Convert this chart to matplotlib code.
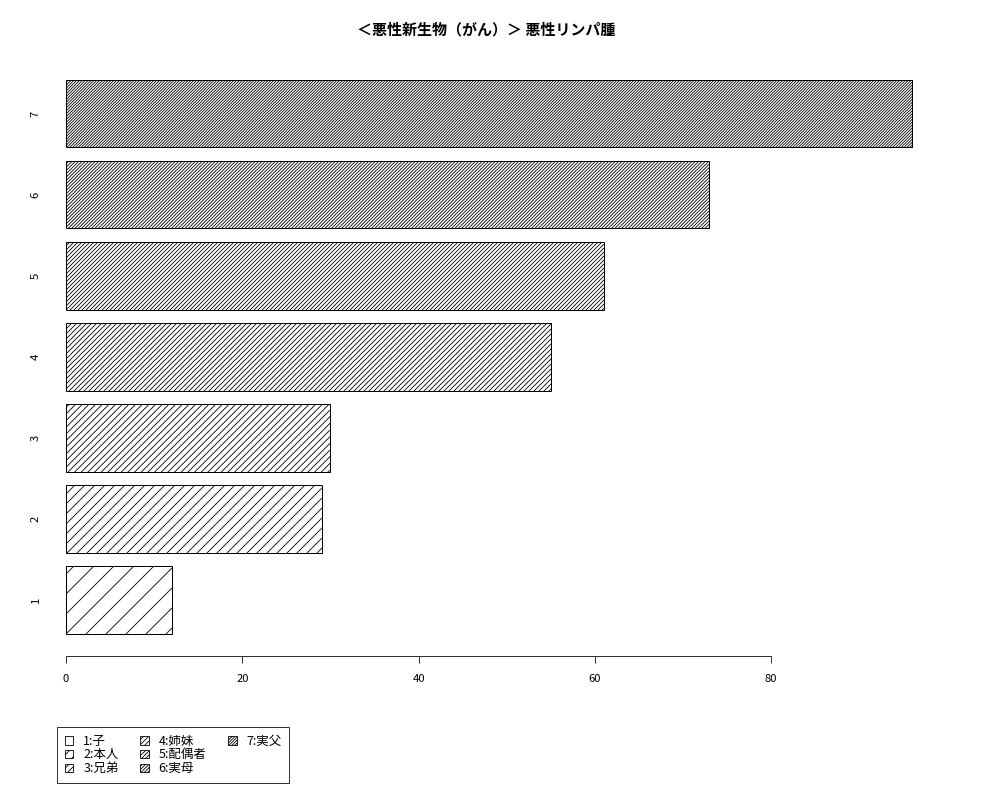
import matplotlib
matplotlib.use("Agg")
import matplotlib.pyplot as plt
from matplotlib.patches import Patch

plt.rcParams['font.family'] = ['Noto Sans CJK JP', 'DejaVu Sans']
plt.rcParams['hatch.linewidth'] = 1.0

# data
groups = ['1', '2', '3', '4', '5', '6', '7']
values = [12, 29, 30, 55, 61, 73, 96]
legend_labels = ['1:子', '2:本人', '3:兄弟', '4:姉妹', '5:配偶者', '6:実母', '7:実父']
hatches = ['/' * (i + 1) for i in range(7)]
title = '＜悪性新生物（がん）＞ 悪性リンパ腫'

# low dpi so that one '/' gives ~20 px line spacing like R density=5
dpi = 60
fig = plt.figure(figsize=(1000 / dpi, 800 / dpi), dpi=dpi)
ax = fig.add_axes([0.0234, 0.18, 0.946 - 0.0234, 0.928 - 0.18])

# R style bar layout: width 1, space 0.2
ypos = [0.2 + 1.2 * i + 0.5 for i in range(len(values))]
for y, v, h in zip(ypos, values, hatches):
    ax.barh(y, v, height=1.0, left=0, color='white', edgecolor='black',
            hatch=h, linewidth=1.2)

ax.set_xlim(-4.84, 99.84)
ax.set_ylim(-0.128, 8.728)

for s in ['top', 'right', 'left']:
    ax.spines[s].set_visible(False)
ax.spines['bottom'].set_bounds(0, 80)
ax.spines['bottom'].set_linewidth(1.2)
ax.spines['bottom'].set_color('#333333')
ax.set_xticks([0, 20, 40, 60, 80])
ax.tick_params(axis='x', length=8.4, width=1.2, color='#333333',
               labelsize=13.5, pad=13)
ax.set_yticks(ypos)
ax.set_yticklabels(groups, rotation=90, ha='center', va='center', fontsize=13.5)
ax.tick_params(axis='y', length=0, pad=-14.5)

fig.text(0.486, 1 - 29 / 800, title, ha='center', va='center',
         fontsize=18, fontweight='bold')

# R fills legend columns 3,3,1 -> pad with two empty entries
handles = [Patch(facecolor='white', edgecolor='black', hatch=h, linewidth=1.0)
           for h in hatches]
handles += [Patch(visible=False), Patch(visible=False)]
labels = legend_labels + ['', '']
leg = fig.legend(handles, labels, loc='upper left',
                 bbox_to_anchor=(57 / 1000, 1 - 727 / 800), ncol=3,
                 fontsize=15, frameon=True, fancybox=False,
                 edgecolor='black', handlelength=0.7, handleheight=0.7,
                 handletextpad=0.8, columnspacing=1.7, labelspacing=0.07,
                 borderpad=0.6, borderaxespad=0.0)
leg.get_frame().set_linewidth(1.2)

fig.savefig('out.png', dpi=dpi)
